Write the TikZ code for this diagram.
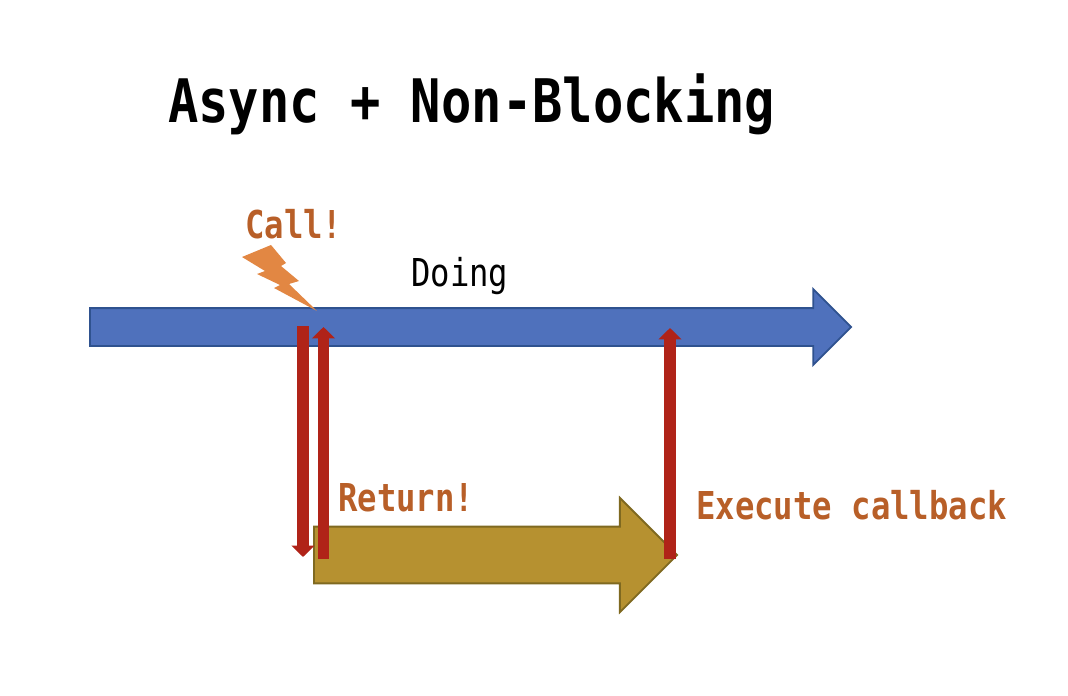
\documentclass[tikz,border=0pt]{standalone}
\usepackage{fontspec}
\newfontfamily\labelfont[FakeStretch=0.84]{DejaVu Sans Mono}
\usepackage{xcolor}
\usetikzlibrary{arrows.meta, shapes.arrows}
\definecolor{flowblue}{HTML}{4F71BC}
\definecolor{flowblueline}{HTML}{2F528F}
\definecolor{taskgold}{HTML}{B69130}
\definecolor{taskgoldline}{HTML}{7F6920}
\definecolor{signalred}{HTML}{B02318}
\definecolor{noteorange}{HTML}{B85F28}
\definecolor{boltorange}{HTML}{E28743}

\begin{document}
\begin{tikzpicture}[
  x=0.75pt, y=-0.75pt,
  blockarrow/.style={single arrow, shape border rotate=0, single arrow tip angle=90,
                     single arrow head indent=0pt, inner xsep=0pt, outer sep=0pt,
                     line width=1.4pt, anchor=tail},
  mainflow/.style={blockarrow, fill=flowblue, draw=flowblueline, inner ysep=13.5pt,
                   single arrow head extend=14.2pt, minimum height=570.8pt},
  asynctask/.style={blockarrow, fill=taskgold, draw=taskgoldline, inner ysep=20.6pt,
                    single arrow head extend=21.6pt, minimum height=272.3pt},
  signal/.style={line width=8.6pt, draw=signalred,
                 -{Triangle[length=8.5pt, width=16.8pt, fill=signalred]}},
  titletext/.style={font=\labelfont\bfseries\fontsize{45}{45}\selectfont, anchor=base west, inner sep=0pt},
  marktext/.style={font=\labelfont\bfseries\fontsize{28.8}{28.8}\selectfont, text=noteorange,
                   anchor=base west, inner sep=0pt},
  flowtext/.style={font=\labelfont\fontsize{28.8}{28.8}\selectfont, anchor=base west, inner sep=0pt},
]
  \useasboundingbox (0,0) rectangle (1068,696);

  \node[titletext] (title) at (168,122) {Async + Non-Blocking};

  % main thread keeps running
  \node[mainflow] (flow) at (90,327) {};
  \node[flowtext] (doing) at (411,286) {Doing};

  \fill[boltorange] (242,257) -- (271,245) -- (286,263) -- (281,266) -- (299,281)
    -- (289,284) -- (317,311) -- (274,288) -- (280,285) -- (257,274) -- (265,271) -- cycle;
  \node[marktext] (call) at (245,238) {Call!};

  % background work
  \node[asynctask] (task) at (314,555) {};
  \node[marktext] (return) at (338,511) {Return!};
  \node[marktext] (callback) at (696,519) {Execute callback};

  \coordinate (callstart) at (303,326);
  \coordinate (callend) at (303,557);
  \coordinate (returnstart) at (323.5,559);
  \coordinate (returnend) at (323.5,327);
  \coordinate (donestart) at (670,559);
  \coordinate (doneend) at (670,328);

  \draw[signal] (callstart) -- (callend);
  \draw[signal] (returnstart) -- (returnend);
  \draw[signal] (donestart) -- (doneend);
\end{tikzpicture}
\end{document}
